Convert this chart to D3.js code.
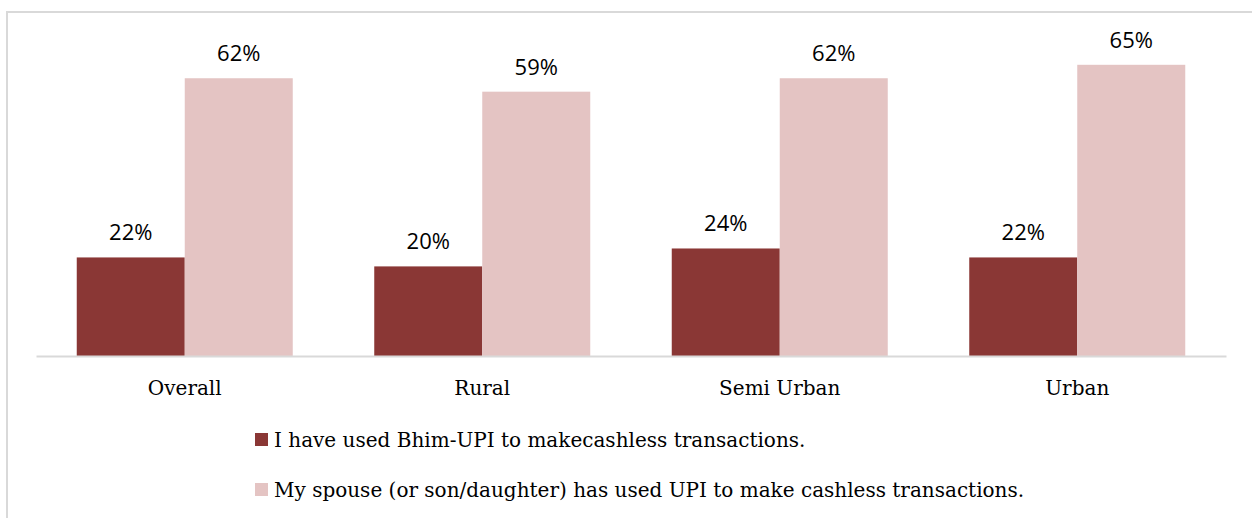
<!DOCTYPE html>
<html>
<head>
  <meta charset="utf-8">
  <script src="https://d3js.org/d3.v7.min.js"></script>
  <style>
    body { margin: 0; background: #fff; }
  </style>
</head>
<body>
<svg id="chart"></svg>
<script>
  const categories = ["Overall", "Rural", "Semi Urban", "Urban"];
  const seriesNames = [
    "I have used Bhim-UPI to makecashless transactions.",
    "My spouse (or son/daughter) has used UPI to make cashless transactions."
  ];
  const usedSelf = [0.22, 0.20, 0.24, 0.22];
  const usedFamily = [0.62, 0.59, 0.62, 0.65];
  const colors = ["#8a3735", "#e4c4c3"];

  const width = 1252, height = 518;
  const svg = d3.select("#chart").attr("width", width).attr("height", height);

  // outer frame
  svg.append("rect")
    .attr("x", 7).attr("y", 12)
    .attr("width", width).attr("height", height)
    .attr("fill", "none")
    .attr("stroke", "#d9d9d9")
    .attr("stroke-width", 2);

  const baseY = 356;
  const x0 = d3.scaleBand().domain(categories).range([36, 1226]).paddingInner(0).paddingOuter(0);
  const x1 = d3.scaleBand().domain([0, 1]).range([0, 216]);
  const y = d3.scaleLinear().domain([0, 0.7]).range([baseY, baseY - 313.6]);

  const rows = categories.map((c, i) => ({ cat: c, vals: [usedSelf[i], usedFamily[i]] }));

  const groups = svg.append("g").selectAll("g")
    .data(rows)
    .join("g")
    .attr("transform", d => `translate(${x0(d.cat) + (x0.bandwidth() - 216) / 2},0)`);

  groups.selectAll("rect")
    .data(d => d.vals.map((v, k) => ({ v, k })))
    .join("rect")
    .attr("x", d => x1(d.k))
    .attr("y", d => y(d.v))
    .attr("width", x1.bandwidth())
    .attr("height", d => baseY - y(d.v))
    .attr("fill", d => colors[d.k]);

  groups.selectAll("text")
    .data(d => d.vals.map((v, k) => ({ v, k })))
    .join("text")
    .attr("x", d => x1(d.k) + x1.bandwidth() / 2)
    .attr("y", d => y(d.v) - 17)
    .attr("text-anchor", "middle")
    .style("font-family", "'Open Sans', sans-serif")
    .style("font-size", "22px")
    .attr("fill", "#000")
    .text(d => d3.format(".0%")(d.v));

  // baseline axis
  const axis = svg.append("g")
    .attr("transform", `translate(0,${baseY})`)
    .call(d3.axisBottom(x0).tickSize(0).tickPadding(25));
  axis.select(".domain").attr("stroke", "#d9d9d9").attr("stroke-width", 2);
  axis.selectAll("text")
    .style("font-family", "'DejaVu Serif', serif")
    .style("font-size", "20px")
    .attr("fill", "#000");

  // legend
  const legend = svg.append("g");
  seriesNames.forEach((name, i) => {
    const ly = 440 + i * 50;
    legend.append("rect")
      .attr("x", 255).attr("y", ly - 7)
      .attr("width", 13).attr("height", 13)
      .attr("fill", colors[i]);
    legend.append("text")
      .attr("x", 274).attr("y", ly)
      .attr("dy", "0.35em")
      .style("font-family", "'DejaVu Serif', serif")
      .style("font-size", "20px")
      .attr("fill", "#000")
      .text(name);
  });
</script>
</body>
</html>
